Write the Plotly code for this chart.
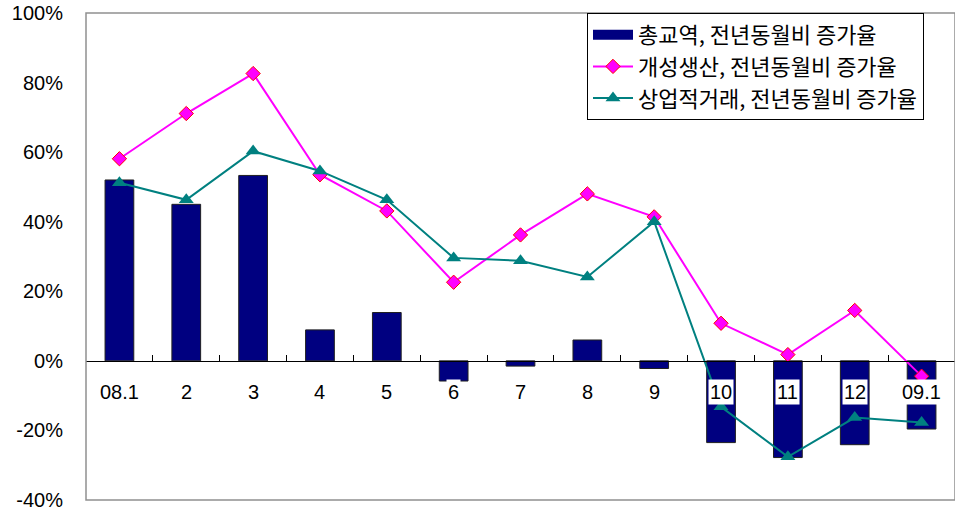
import plotly.graph_objects as go

categories = ["08.1", "2", "3", "4", "5", "6", "7", "8", "9", "10", "11", "12", "09.1"]
trade_growth = [52.0, 45.0, 53.3, 8.9, 13.9, -5.8, -1.5, 6.0, -2.2, -23.5, -27.8, -24.1, -19.6]
kaesong_growth = [58.1, 71.1, 82.6, 53.5, 43.1, 22.6, 36.2, 48.0, 41.4, 10.8, 1.8, 14.5, -4.4]
commercial_growth = [51.2, 46.3, 60.3, 54.6, 46.3, 29.6, 28.8, 24.1, 40.0, -13.2, -27.6, -16.3, -17.7]
y_ticks = [-40, -20, 0, 20, 40, 60, 80, 100]
y_tick_labels = ["-40%", "-20%", "0%", "20%", "40%", "60%", "80%", "100%"]
series_names = ["총교역, 전년동월비 증가율", "개성생산, 전년동월비 증가율", "상업적거래, 전년동월비 증가율"]

y_min, y_max = -40, 100
x_idx = list(range(len(categories)))

W, H = 955, 513

fig = go.Figure()
fig.add_trace(go.Bar(
    x=x_idx, y=trade_growth, name=series_names[0], showlegend=False, legendgroup="g0",
    marker=dict(color="#000080", line=dict(color="#202020", width=1)),
))
# legend swatch for the bar series (wide navy rectangle)
fig.add_trace(go.Scatter(
    x=[None], y=[None], name=series_names[0], mode="lines", legendgroup="g0",
    line=dict(color="#000080", width=10),
))
fig.add_trace(go.Scatter(
    x=x_idx, y=kaesong_growth, name=series_names[1], mode="lines+markers",
    line=dict(color="#FF00FF", width=2),
    marker=dict(symbol="diamond", size=11, color="#FF00FF", line=dict(color="#FF0000", width=1)),
))
fig.add_trace(go.Scatter(
    x=x_idx, y=commercial_growth, name=series_names[2], mode="lines+markers",
    line=dict(color="#008080", width=2),
    marker=dict(symbol="triangle-up", size=13, color="#008080"),
))

for i, c in enumerate(categories):
    fig.add_annotation(
        x=i, y=0, xref="x", yref="y", text=c, showarrow=False,
        yanchor="top", yshift=-18, bgcolor="white", borderpad=1,
        font=dict(family="Liberation Sans, Arial", size=20, color="black"),
    )

fig.add_shape(type="rect", xref="paper", yref="paper", x0=0, x1=1, y0=0, y1=1,
              line=dict(color="#909090", width=1.5), layer="above")

fig.update_layout(
    width=W, height=H,
    margin=dict(l=86, r=0, t=13, b=13, autoexpand=False),
    paper_bgcolor="white", plot_bgcolor="white",
    bargap=0.57,
    showlegend=True,
    legend=dict(
        xref="container", yref="container",
        x=587 / W, y=1 - 13 / H, xanchor="left", yanchor="top",
        bgcolor="white", bordercolor="black", borderwidth=1,
        font=dict(family="Noto Sans CJK KR", size=22, color="black"),
        itemwidth=40, traceorder="normal",
    ),
    xaxis=dict(
        range=[-0.5, len(categories) - 0.5],
        anchor="free", position=(0 - y_min) / (y_max - y_min),
        showline=True, linecolor="black", linewidth=1,
        tickmode="array", tickvals=[i - 0.5 for i in range(len(categories) + 1)],
        ticks="inside", ticklen=6, tickcolor="black",
        showticklabels=False, showgrid=False, zeroline=False,
    ),
    yaxis=dict(
        range=[y_min, y_max], tickvals=y_ticks, ticktext=y_tick_labels,
        showgrid=False, zeroline=False, showline=False, ticks="",
        ticklabelstandoff=22,
        tickfont=dict(family="Liberation Sans, Arial", size=20, color="black"),
    ),
)

fig.write_html("out.html", config={"displayModeBar": False},
               post_script="document.body.style.margin='0';")
